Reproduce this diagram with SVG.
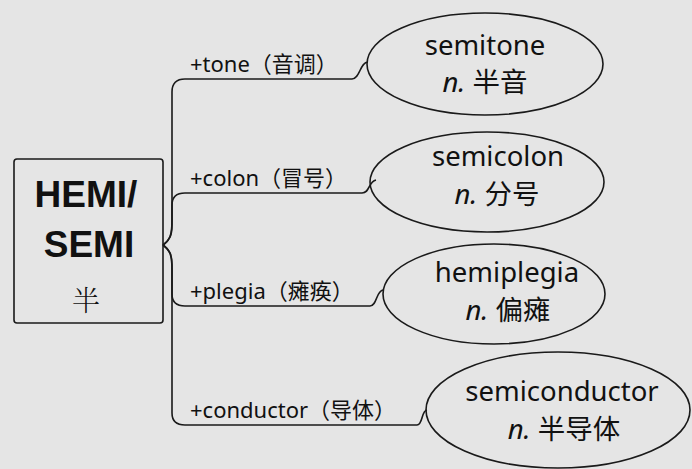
<svg xmlns="http://www.w3.org/2000/svg" width="692" height="469" viewBox="0 0 692 469">
<style>
.ln{fill:none;stroke:#1a1a1a;stroke-width:1.6}
.nd{fill:none;stroke:#1a1a1a;stroke-width:1.6}
.lb{font-family:"Noto Sans","Open Sans","Noto Sans CJK SC",sans-serif;font-size:22px;fill:#111}
.et{font-family:"Noto Sans","Open Sans","Noto Sans CJK SC",sans-serif;font-size:27.5px;fill:#111;text-anchor:middle}
.it{font-style:italic}
.bx{font-family:"Liberation Sans",Arial,sans-serif;font-weight:bold;font-size:37px;fill:#111;text-anchor:middle}
</style>
<rect width="692" height="469" fill="#e5e5e5"/>
<g id="connectors">
<path class="ln" d="M163,245 C170,240 172,235 172,220 L172,92 Q172,79 185,79 L352,79 C360,79 360,62 368,62"/>
<path class="ln" d="M163,245 C170,240 172,235 172,225 L172,205 Q172,193 185,193 L362,193 C370,193 368,182 376,180"/>
<path class="ln" d="M163,245 C170,250 172,255 172,265 L172,294 Q172,306 185,306 L370,306 C377,306 376,291 383,290"/>
<path class="ln" d="M163,245 C170,250 172,255 172,270 L172,413 Q172,425 185,425 L417,425 C423,425 421,411 427,410"/>
</g>
<g id="root">
<rect class="nd" x="14" y="159" width="149" height="164" rx="3"/>
<text class="bx" x="86" y="207">HEMI/</text>
<text class="bx" x="89" y="257">SEMI</text>
<text x="86" y="311" font-family="'Noto Serif CJK SC','Noto Sans CJK SC',serif" font-size="28" font-weight="300" text-anchor="middle" fill="#111">半</text>
</g>
<g id="label-tone"><text class="lb" x="190" y="72">+tone（音调）</text></g>
<g id="label-colon"><text class="lb" x="190" y="186">+colon（冒号）</text></g>
<g id="label-plegia"><text class="lb" x="190" y="299">+plegia（瘫痪）</text></g>
<g id="label-conductor"><text class="lb" x="190" y="418">+conductor（导体）</text></g>
<g id="semitone">
<ellipse class="nd" cx="485" cy="64" rx="118" ry="51"/>
<text class="et" x="485" y="55">semitone</text>
<text class="et" x="485" y="92"><tspan class="it">n.</tspan> 半音</text>
</g>
<g id="semicolon">
<ellipse class="nd" cx="487" cy="182" rx="117" ry="50"/>
<text class="et" x="498" y="166">semicolon</text>
<text class="et" x="497" y="204"><tspan class="it">n.</tspan> 分号</text>
</g>
<g id="hemiplegia">
<ellipse class="nd" cx="494" cy="294" rx="111" ry="50"/>
<text class="et" x="507" y="282">hemiplegia</text>
<text class="et" x="508" y="320"><tspan class="it">n.</tspan> 偏瘫</text>
</g>
<g id="semiconductor">
<ellipse class="nd" cx="558" cy="410" rx="132" ry="58"/>
<text class="et" x="562" y="401">semiconductor</text>
<text class="et" x="564" y="439"><tspan class="it">n.</tspan> 半导体</text>
</g>
</svg>
